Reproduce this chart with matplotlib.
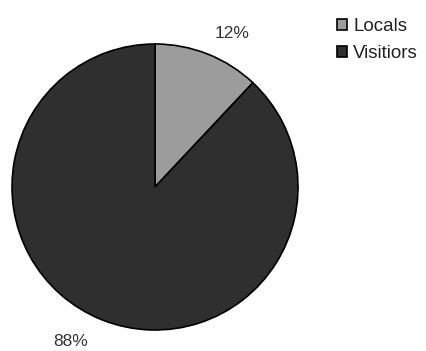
import matplotlib.pyplot as plt
import numpy as np

# datos del grafico
categorias = ["Locals", "Visitiors"]
valores = [12, 88]
etiquetas = ["12%", "88%"]
colores = ["#9c9c9c", "#2f2f2f"]

plt.rcParams['font.family'] = ['Liberation Sans', 'DejaVu Sans']

fig = plt.figure(figsize=(4.27, 3.51), dpi=100)
# eje colocado sobre el circulo
ax = fig.add_axes([12 / 427, (351 - 330) / 351, 286 / 427, 286 / 351])

wedges, texts = ax.pie(valores, labels=etiquetas, colors=colores, startangle=90,
                       counterclock=False, labeldistance=1.2,
                       wedgeprops=dict(edgecolor="black", linewidth=1.2),
                       textprops=dict(fontsize=12.5, color="#333333"))
# posiciones de las etiquetas como en el original
texts[0].set_position((0.54, 1.07))
texts[1].set_position((-0.59, -1.08))
for t in texts:
    t.set_ha("center")
    t.set_va("center")
ax.set_xlim(-1.0, 1.0)
ax.set_ylim(-1.0, 1.0)
ax.set_aspect('equal')

fig.legend(wedges, categorias, loc="upper left", bbox_to_anchor=(324 / 427, 1 - 5 / 351),
           frameon=False, fontsize=13.5, handlelength=0.55, handleheight=0.55,
           handletextpad=0.3, labelspacing=0.55, borderpad=0.2,
           labelcolor="#222222")

plt.savefig("out.png", dpi=100)
